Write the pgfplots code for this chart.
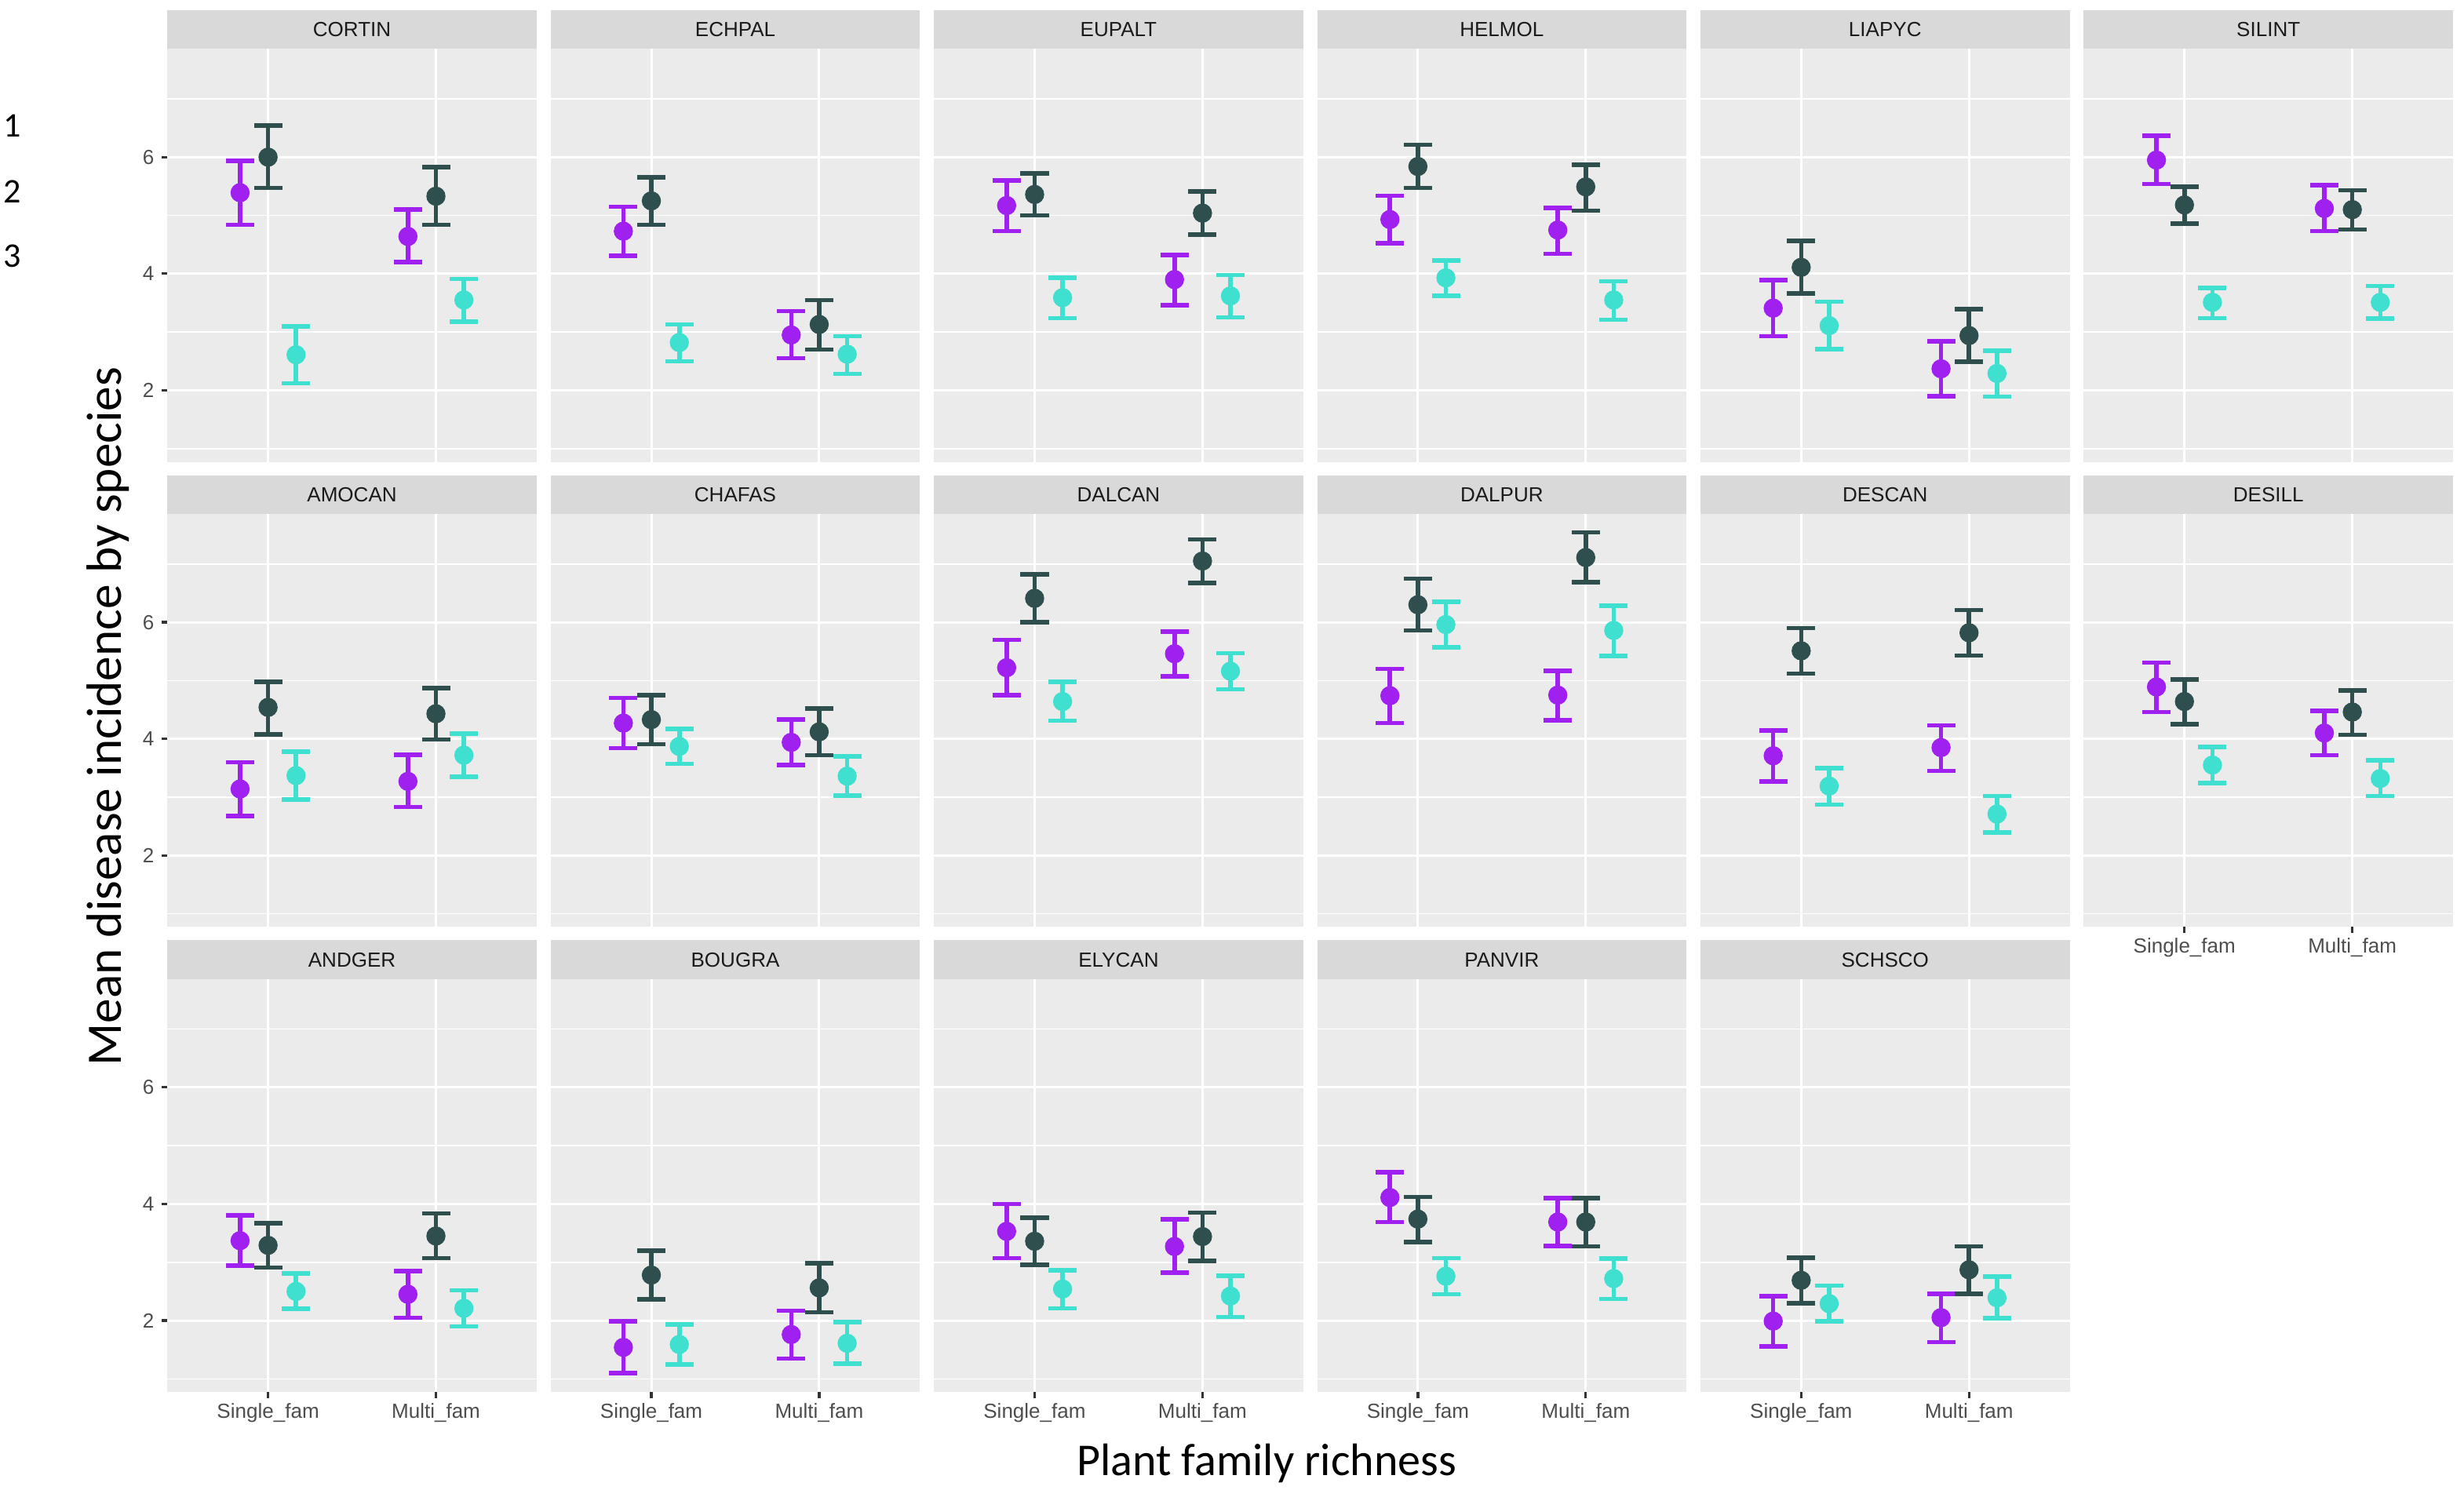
\documentclass[border=0pt]{standalone}
\usepackage{pgfplots}
\pgfplotsset{compat=1.18}
\usepackage{pgfplotstable}
\usepackage{fontspec}
\setmainfont{Liberation Sans}
\newfontfamily\calibri{Carlito}

\definecolor{purp}{HTML}{A020F0}
\definecolor{dslate}{HTML}{2F4F4F}
\definecolor{turq}{HTML}{40E0D0}
\definecolor{panelbg}{HTML}{EBEBEB}
\definecolor{stripbg}{HTML}{D9D9D9}
\definecolor{striptext}{HTML}{1A1A1A}
\definecolor{ticktext}{HTML}{4D4D4D}
\definecolor{tickgray}{HTML}{333333}

% columns: x, purple mean/lo/hi, dark mean/lo/hi, turquoise mean/lo/hi
\pgfplotstableread{
x pm plo phi dm dlo dhi tm tlo thi
1 5.39 4.84 5.94 6.00 5.47 6.54 2.61 2.12 3.10
2 4.64 4.20 5.10 5.33 4.84 5.83 3.55 3.18 3.91
}\tCORTIN
\pgfplotstableread{
x pm plo phi dm dlo dhi tm tlo thi
1 4.73 4.31 5.15 5.25 4.84 5.65 2.82 2.50 3.13
2 2.95 2.55 3.36 3.13 2.70 3.55 2.62 2.28 2.93
}\tECHPAL
\pgfplotstableread{
x pm plo phi dm dlo dhi tm tlo thi
1 5.17 4.73 5.60 5.36 5.00 5.72 3.59 3.24 3.93
2 3.90 3.46 4.32 5.04 4.67 5.41 3.62 3.25 3.98
}\tEUPALT
\pgfplotstableread{
x pm plo phi dm dlo dhi tm tlo thi
1 4.93 4.52 5.34 5.84 5.47 6.21 3.93 3.62 4.23
2 4.75 4.34 5.13 5.49 5.08 5.87 3.55 3.21 3.87
}\tHELMOL
\pgfplotstableread{
x pm plo phi dm dlo dhi tm tlo thi
1 3.41 2.93 3.89 4.11 3.66 4.56 3.11 2.71 3.52
2 2.37 1.90 2.84 2.94 2.49 3.39 2.29 1.89 2.68
}\tLIAPYC
\pgfplotstableread{
x pm plo phi dm dlo dhi tm tlo thi
1 5.95 5.54 6.37 5.18 4.86 5.49 3.51 3.24 3.76
2 5.12 4.73 5.52 5.10 4.76 5.43 3.51 3.23 3.79
}\tSILINT
\pgfplotstableread{
x pm plo phi dm dlo dhi tm tlo thi
1 3.14 2.68 3.60 4.54 4.08 4.98 3.37 2.96 3.78
2 3.27 2.83 3.73 4.43 3.99 4.87 3.72 3.35 4.09
}\tAMOCAN
\pgfplotstableread{
x pm plo phi dm dlo dhi tm tlo thi
1 4.27 3.84 4.70 4.33 3.91 4.75 3.87 3.57 4.17
2 3.94 3.55 4.33 4.12 3.72 4.52 3.36 3.03 3.70
}\tCHAFAS
\pgfplotstableread{
x pm plo phi dm dlo dhi tm tlo thi
1 5.22 4.75 5.70 6.41 6.00 6.82 4.64 4.31 4.98
2 5.46 5.07 5.84 7.05 6.67 7.42 5.16 4.85 5.47
}\tDALCAN
\pgfplotstableread{
x pm plo phi dm dlo dhi tm tlo thi
1 4.74 4.27 5.20 6.30 5.86 6.75 5.96 5.57 6.35
2 4.75 4.32 5.17 7.11 6.69 7.54 5.86 5.42 6.28
}\tDALPUR
\pgfplotstableread{
x pm plo phi dm dlo dhi tm tlo thi
1 3.71 3.27 4.14 5.51 5.12 5.90 3.19 2.87 3.50
2 3.85 3.45 4.23 5.82 5.43 6.21 2.71 2.39 3.02
}\tDESCAN
\pgfplotstableread{
x pm plo phi dm dlo dhi tm tlo thi
1 4.89 4.46 5.31 4.64 4.25 5.02 3.55 3.24 3.86
2 4.10 3.72 4.48 4.46 4.07 4.83 3.32 3.02 3.63
}\tDESILL
\pgfplotstableread{
x pm plo phi dm dlo dhi tm tlo thi
1 3.37 2.94 3.80 3.29 2.91 3.67 2.50 2.20 2.81
2 2.45 2.05 2.85 3.45 3.07 3.84 2.21 1.90 2.52
}\tANDGER
\pgfplotstableread{
x pm plo phi dm dlo dhi tm tlo thi
1 1.54 1.10 1.99 2.78 2.36 3.20 1.59 1.25 1.93
2 1.76 1.35 2.17 2.56 2.14 2.98 1.61 1.26 1.97
}\tBOUGRA
\pgfplotstableread{
x pm plo phi dm dlo dhi tm tlo thi
1 3.53 3.07 4.00 3.36 2.96 3.76 2.54 2.21 2.86
2 3.27 2.82 3.74 3.44 3.02 3.85 2.42 2.06 2.77
}\tELYCAN
\pgfplotstableread{
x pm plo phi dm dlo dhi tm tlo thi
1 4.11 3.69 4.54 3.74 3.35 4.12 2.76 2.45 3.07
2 3.69 3.28 4.10 3.69 3.27 4.10 2.72 2.37 3.06
}\tPANVIR
\pgfplotstableread{
x pm plo phi dm dlo dhi tm tlo thi
1 1.99 1.56 2.42 2.69 2.30 3.08 2.29 1.99 2.60
2 2.05 1.63 2.46 2.87 2.46 3.27 2.39 2.04 2.75
}\tSCHSCO

\pgfplotsset{
  panel/.style={
    scale only axis, width=117.5pt, height=131.35pt, anchor=north west,
    xmin=0.4, xmax=2.6, ymin=0.775, ymax=7.855,
    axis background/.style={fill=panelbg},
    axis line style={draw=none},
    xtick={1,2}, ytick={2,4,6}, minor ytick={1,3,5,7},
    xticklabels={Single\_fam, Multi\_fam},
    xmajorgrids, ymajorgrids, yminorgrids,
    major grid style={white, line width=0.75pt},
    minor grid style={white, line width=0.4pt},
    tick align=outside, xtick pos=bottom, ytick pos=left,
    major tick length=1.9pt, minor tick length=0pt,
    major tick style={tickgray, line width=0.8pt},
    minor tick style={draw=none},
    /pgf/number format/assume math mode=true,
    ticklabel style={font=\fontsize{6.5}{7.5}\selectfont, text=ticktext},
    xticklabel style={yshift=1.8pt},
    yticklabel style={xshift=1.2pt},
    every axis title/.style={at={(0.5,1)}, anchor=south, inner sep=0pt, outer sep=0pt,
      fill=stripbg, minimum width=117.5pt, minimum height=12.4pt,
      text=striptext, font=\fontsize{6.5}{7.5}\selectfont},
  },
  nox/.style={xticklabels={}, xtick style={draw=none}},
  noy/.style={yticklabels={}, ytick style={draw=none}},
  ser/.style={only marks, mark=*, color=#1, mark size=2.85pt,
    error bars/y dir=both, error bars/y explicit,
    error bars/error bar style={line width=1.4pt, color=#1},
    error bars/error mark options={color=#1, line width=1.4pt, mark size=4.5pt, rotate=90}},
}

\newcommand{\facet}[5]{%
  \begin{axis}[panel, at={(#3,#4)}, title={#1}, #5]
    \addplot[ser=purp] table[x expr=\thisrow{x}-0.16667, y=pm,
      y error plus expr=\thisrow{phi}-\thisrow{pm},
      y error minus expr=\thisrow{pm}-\thisrow{plo}] {#2};
    \addplot[ser=dslate] table[x=x, y=dm,
      y error plus expr=\thisrow{dhi}-\thisrow{dm},
      y error minus expr=\thisrow{dm}-\thisrow{dlo}] {#2};
    \addplot[ser=turq] table[x expr=\thisrow{x}+0.16667, y=tm,
      y error plus expr=\thisrow{thi}-\thisrow{tm},
      y error minus expr=\thisrow{tm}-\thisrow{tlo}] {#2};
  \end{axis}}

\begin{document}
\begin{tikzpicture}
\useasboundingbox (0,0) rectangle (784pt,474pt);
% row 1
\facet{CORTIN}{\tCORTIN}{53.25pt}{458.4pt}{nox}
\facet{ECHPAL}{\tECHPAL}{175.2pt}{458.4pt}{nox,noy}
\facet{EUPALT}{\tEUPALT}{297.15pt}{458.4pt}{nox,noy}
\facet{HELMOL}{\tHELMOL}{419.1pt}{458.4pt}{nox,noy}
\facet{LIAPYC}{\tLIAPYC}{541.05pt}{458.4pt}{nox,noy}
\facet{SILINT}{\tSILINT}{663pt}{458.4pt}{nox,noy}
% row 2
\facet{AMOCAN}{\tAMOCAN}{53.25pt}{310.4pt}{nox}
\facet{CHAFAS}{\tCHAFAS}{175.2pt}{310.4pt}{nox,noy}
\facet{DALCAN}{\tDALCAN}{297.15pt}{310.4pt}{nox,noy}
\facet{DALPUR}{\tDALPUR}{419.1pt}{310.4pt}{nox,noy}
\facet{DESCAN}{\tDESCAN}{541.05pt}{310.4pt}{nox,noy}
\facet{DESILL}{\tDESILL}{663pt}{310.4pt}{noy}
% row 3
\facet{ANDGER}{\tANDGER}{53.25pt}{162.4pt}{}
\facet{BOUGRA}{\tBOUGRA}{175.2pt}{162.4pt}{noy}
\facet{ELYCAN}{\tELYCAN}{297.15pt}{162.4pt}{noy}
\facet{PANVIR}{\tPANVIR}{419.1pt}{162.4pt}{noy}
\facet{SCHSCO}{\tSCHSCO}{541.05pt}{162.4pt}{noy}
% axis titles and side labels
\node[rotate=90, font=\calibri\fontsize{15.8}{18}\selectfont] at (34.3pt,246pt) {Mean disease incidence by species};
\node[anchor=base, font=\calibri\fontsize{14.5}{17}\selectfont] at (403pt,4.5pt) {Plant family richness};
\node[anchor=west, inner sep=0pt, font=\calibri\fontsize{11}{13}\selectfont] at (1pt,434pt) {1};
\node[anchor=west, inner sep=0pt, font=\calibri\fontsize{11}{13}\selectfont] at (1pt,413pt) {2};
\node[anchor=west, inner sep=0pt, font=\calibri\fontsize{11}{13}\selectfont] at (1pt,392.5pt) {3};
\end{tikzpicture}
\end{document}
